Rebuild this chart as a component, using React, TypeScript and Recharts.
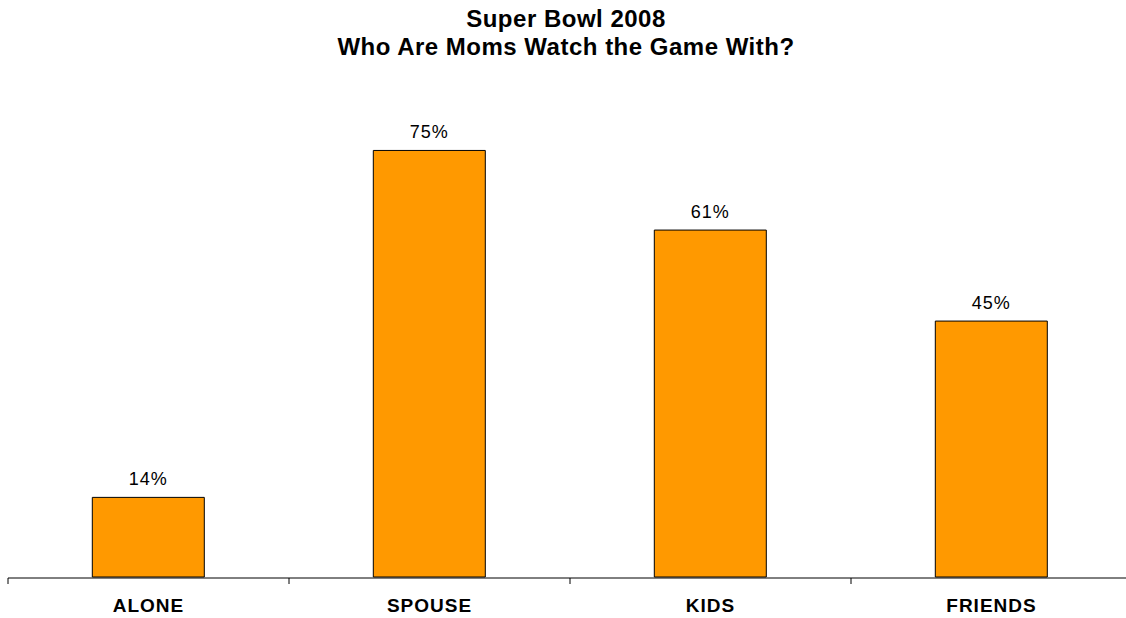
import { BarChart, Bar, XAxis, YAxis, LabelList } from "recharts";

const categories = ["ALONE", "SPOUSE", "KIDS", "FRIENDS"];
const shares = [14, 75, 61, 45];
const edgeTicks = [0, 1, 2, 3, 4];

const data = categories.map((name, i) => ({ name, value: shares[i], pos: i + 0.5 }));

const font = "'Liberation Sans', Arial, sans-serif";

export default function App() {
  return (
    <div
      style={{
        position: "absolute",
        left: 0,
        top: 0,
        width: 1126,
        height: 618,
        overflow: "hidden",
        background: "#fff",
        fontFamily: font,
      }}
    >
      <div
        style={{
          position: "absolute",
          left: 0,
          top: 5,
          width: 1132,
          textAlign: "center",
          fontWeight: "bold",
          fontSize: 24,
          letterSpacing: 0.5,
          lineHeight: "28px",
          color: "#000",
        }}
      >
        Super Bowl 2008
        <br />
        Who Are Moms Watch the Game With?
      </div>
      <BarChart
        width={1132}
        height={618}
        data={data}
        margin={{ top: 122, right: 0, bottom: 0, left: 8 }}
        barCategoryGap="30%"
      >
        <XAxis
          xAxisId="cat"
          dataKey="name"
          height={1}
          axisLine={false}
          tickLine={false}
          tickSize={0}
          tickMargin={22}
          interval={0}
          tick={{ fill: "#000", fontSize: 19, fontWeight: "bold", fontFamily: font, letterSpacing: 1 }}
        />
        <XAxis
          xAxisId="edge"
          type="number"
          dataKey="pos"
          domain={[0, 4]}
          ticks={edgeTicks}
          height={40}
          stroke="#000"
          tickSize={6}
          tick={() => <g />}
          allowDataOverflow
        />
        <YAxis hide domain={[0, 80]} />
        <Bar
          xAxisId="cat"
          dataKey="value"
          fill="#FF9900"
          stroke="#000"
          strokeWidth={1}
          isAnimationActive={false}
        >
          <LabelList
            dataKey="value"
            position="top"
            offset={12}
            formatter={(v: any) => `${v}%`}
            style={{ fill: "#000", fontSize: 18, fontFamily: font, letterSpacing: 1 }}
          />
        </Bar>
      </BarChart>
    </div>
  );
}
